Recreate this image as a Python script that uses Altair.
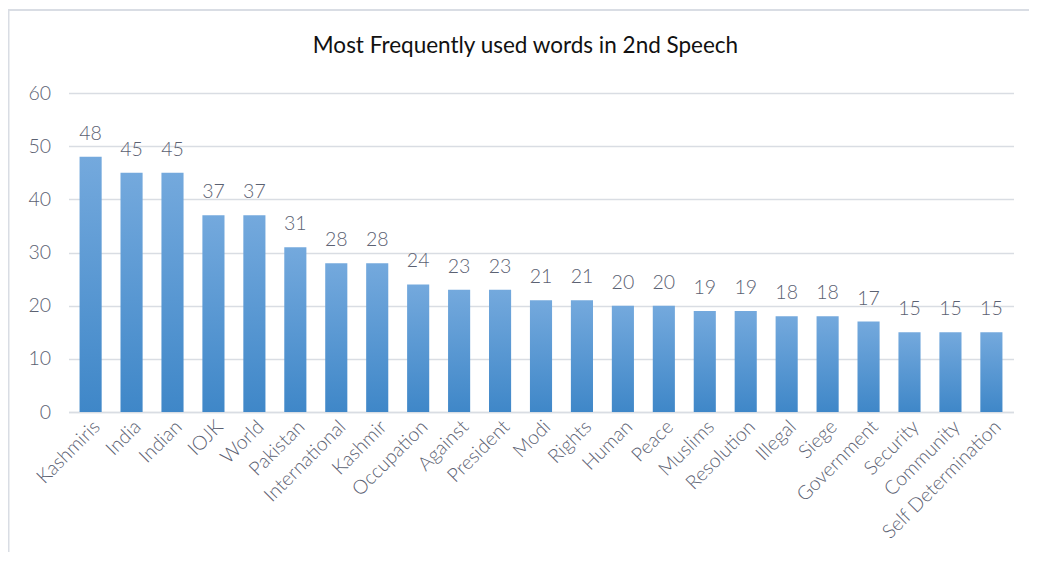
import altair as alt
import pandas as pd

words = ["Kashmiris", "India", "Indian", "IOJK", "World", "Pakistan", "International",
         "Kashmir", "Occupation", "Against", "President", "Modi", "Rights", "Human",
         "Peace", "Muslims", "Resolution", "Illegal", "Siege", "Government", "Security",
         "Community", "Self Determination"]
counts = [48, 45, 45, 37, 37, 31, 28, 28, 24, 23, 23, 21, 21, 20, 20, 19, 19, 18, 18, 17,
          15, 15, 15]
y_ticks = [0, 10, 20, 30, 40, 50, 60]
title_text = "Most Frequently used words in 2nd Speech"

df = pd.DataFrame({"word": words, "count": counts})

FONT = "Lato"
TXT = "#5b6172"
GRID = "#d9dde3"

grad = alt.Gradient(
    gradient="linear",
    stops=[alt.GradientStop(color="#74a9dd", offset=0),
           alt.GradientStop(color="#3f87c8", offset=1)],
    x1=0, x2=0, y1=0, y2=1,
)

base = alt.Chart(df)

x_enc = alt.X("word:N", sort=None, title=None,
              scale=alt.Scale(paddingInner=0.46, paddingOuter=0.27),
              axis=alt.Axis(labelAngle=-45, labelFontSize=19.5, labelColor=TXT,
                            labelFont=FONT, labelFontWeight=300,
                            domainColor=GRID, domainWidth=1.5,
                            ticks=False, labelPadding=5, labelLimit=300))
y_enc = alt.Y("count:Q", title=None,
              scale=alt.Scale(domain=[0, 60], nice=False),
              axis=alt.Axis(values=y_ticks, grid=True, gridColor=GRID, gridWidth=1.5,
                            domain=False, ticks=False, labelPadding=18,
                            labelFontSize=19.5, labelColor=TXT, labelFont=FONT,
                            labelFontWeight=300))

bars = base.mark_bar(color=grad).encode(x=x_enc, y=y_enc)

labels = base.mark_text(baseline="alphabetic", dy=-17, fontSize=19.5, color=TXT,
                        font=FONT, fontWeight=300).encode(
    x=alt.X("word:N", sort=None), y="count:Q", text="count:Q")

one = alt.Data(values=[{"t": title_text}])

frame = alt.Chart(one).mark_rect(
    fill=None, stroke="#d9dde4", strokeWidth=2
).encode(x=alt.value(-60), x2=alt.value(2000), y=alt.value(-83), y2=alt.value(1000))

title = alt.Chart(one).mark_text(
    font=FONT, fontSize=22.5, color="#111111", align="center", baseline="alphabetic"
).encode(x=alt.value(457), y=alt.value(-40), text="t:N")

chart = alt.layer(frame, bars, labels, title).properties(
    width=945, height=319,
    autosize=alt.AutoSizeParams(type="none"),
    padding={"left": 60.5, "top": 85, "right": 15, "bottom": 140},
).configure_view(stroke=None)

chart.save("out.html", embed_options={"renderer": "svg", "actions": False})
